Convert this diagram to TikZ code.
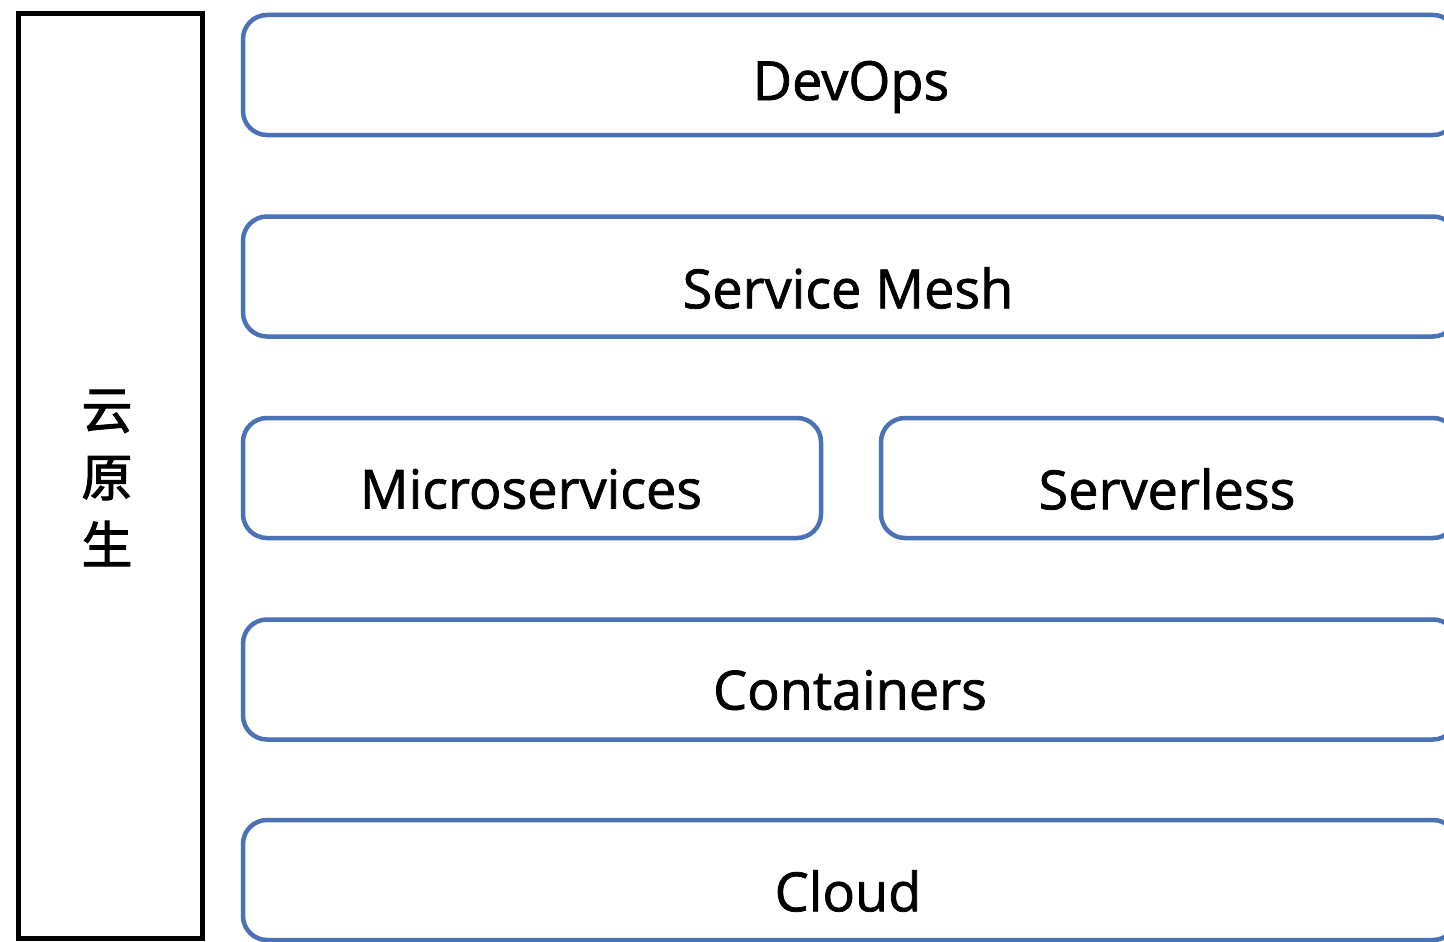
\documentclass[tikz,border=0pt]{standalone}
\usepackage{fontspec}
\setmainfont{Open Sans}[FakeBold=1.4]
\newfontfamily\cjkfont{Noto Sans CJK SC}[FakeBold=2]
\definecolor{layerblue}{RGB}{76,114,182}
\begin{document}
\begin{tikzpicture}[x=1pt,y=-1pt,
  layer/.style={draw=layerblue,line width=4.5pt,rounded corners=24pt,inner sep=0pt,minimum height=120pt},
  lbl/.style={font=\fontsize{54}{64}\selectfont,text=black,inner sep=0pt},
  side/.style={draw=black,line width=5pt}]
\useasboundingbox (0,0) rectangle (1444,942);
\clip (0,0) rectangle (1444,942);
\fill[white] (0,0) rectangle (1444,942);
% left bar
\draw[side] (18.5,14) rectangle (202,938);
\node[font=\cjkfont\fontsize{51}{67.5}\selectfont,align=center,inner sep=0pt] (yun) at (107,478) {云\\原\\生};
% layers
\node[layer,minimum width=1214pt] (devops) at (850,75) {};
\node[lbl] (tdevops) at (851,87) {DevOps};
\node[layer,minimum width=1214pt] (mesh) at (850,276.5) {};
\node[lbl] (tmesh) at (848,288) {Service Mesh};
\node[layer,minimum width=578pt] (micro) at (532,478) {};
\node[lbl] (tmicro) at (531,489) {Microservices};
\node[layer,minimum width=576pt] (serverless) at (1169,478) {};
\node[lbl] (tserverless) at (1167,489) {Serverless};
\node[layer,minimum width=1214pt] (containers) at (850,679.5) {};
\node[lbl] (tcontainers) at (850,690) {Containers};
\node[layer,minimum width=1214pt] (cloud) at (850,880) {};
\node[lbl] (tcloud) at (848,891) {Cloud};
\end{tikzpicture}
\end{document}
